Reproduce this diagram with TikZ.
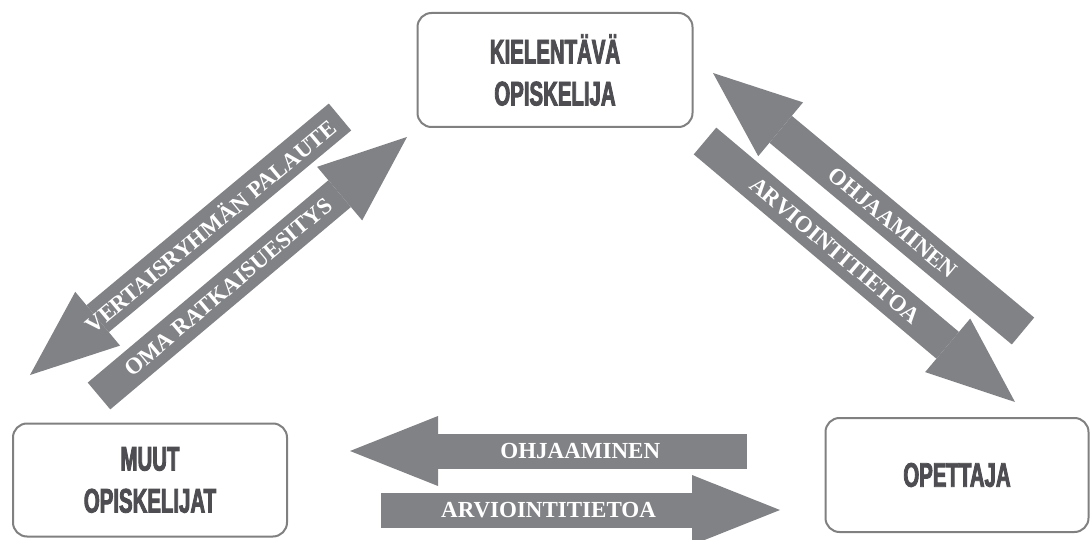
\documentclass[tikz,border=0pt]{standalone}
\usepackage{fontspec}
\setmainfont{Liberation Serif}
\newfontfamily\boxfont[FakeStretch=0.6, FakeBold=2.5]{Liberation Sans Bold}
\usetikzlibrary{arrows.meta}
\definecolor{arrowgray}{RGB}{129,130,134}
\definecolor{boxline}{RGB}{128,128,128}
\definecolor{boxtext}{RGB}{78,78,82}

\begin{document}
\begin{tikzpicture}[
    x=1pt, y=-1pt,
    box/.style={rectangle, draw=boxline, line width=2pt, rounded corners=14pt, align=center, fill=white, text=boxtext, font=\boxfont\fontsize{34}{42}\selectfont},
    bigarrow/.style={draw=arrowgray, line width=35pt, -{Triangle[length=88pt, width=70pt, line width=0pt]}},
    flowtext/.style={sloped, pos=0.42, text=white, inner sep=0pt, font=\bfseries\fontsize{23}{23}\selectfont}
]
    \useasboundingbox (0,0) rectangle (1090,540);

    % Nodes
    \node[box, minimum width=275pt, minimum height=114pt] (learner) at (555,70) {KIELENTÄVÄ\\OPISKELIJA};
    \node[box, minimum width=274pt, minimum height=113pt] (others) at (150,480) {MUUT\\OPISKELIJAT};
    \node[box, minimum width=263pt, minimum height=114pt] (teacher) at (957,475) {OPETTAJA};

    % Arrow ends
    \coordinate (peer-tail) at (340,117);
    \coordinate (peer-tip) at (30,375);
    \coordinate (own-tail) at (99,396);
    \coordinate (own-tip) at (407,137);
    \coordinate (guide-tail) at (1023,331);
    \coordinate (guide-tip) at (713,73);
    \coordinate (assess-tail) at (705,141);
    \coordinate (assess-tip) at (1015,402);
    \coordinate (guide2-tail) at (747,451);
    \coordinate (guide2-tip) at (350,451);
    \coordinate (assess2-tail) at (381,510);
    \coordinate (assess2-tip) at (780,510);

    % Arrows
    \draw[bigarrow] (peer-tail) -- (peer-tip) node[flowtext] {VERTAISRYHMÄN PALAUTE};
    \draw[bigarrow] (own-tail) -- (own-tip) node[flowtext] {OMA RATKAISUESITYS};
    \draw[bigarrow] (guide-tail) -- (guide-tip) node[flowtext] {OHJAAMINEN};
    \draw[bigarrow] (assess-tail) -- (assess-tip) node[flowtext] {ARVIOINTITIETOA};
    \draw[bigarrow] (guide2-tail) -- (guide2-tip) node[flowtext] {OHJAAMINEN};
    \draw[bigarrow] (assess2-tail) -- (assess2-tip) node[flowtext] {ARVIOINTITIETOA};

\end{tikzpicture}
\end{document}
